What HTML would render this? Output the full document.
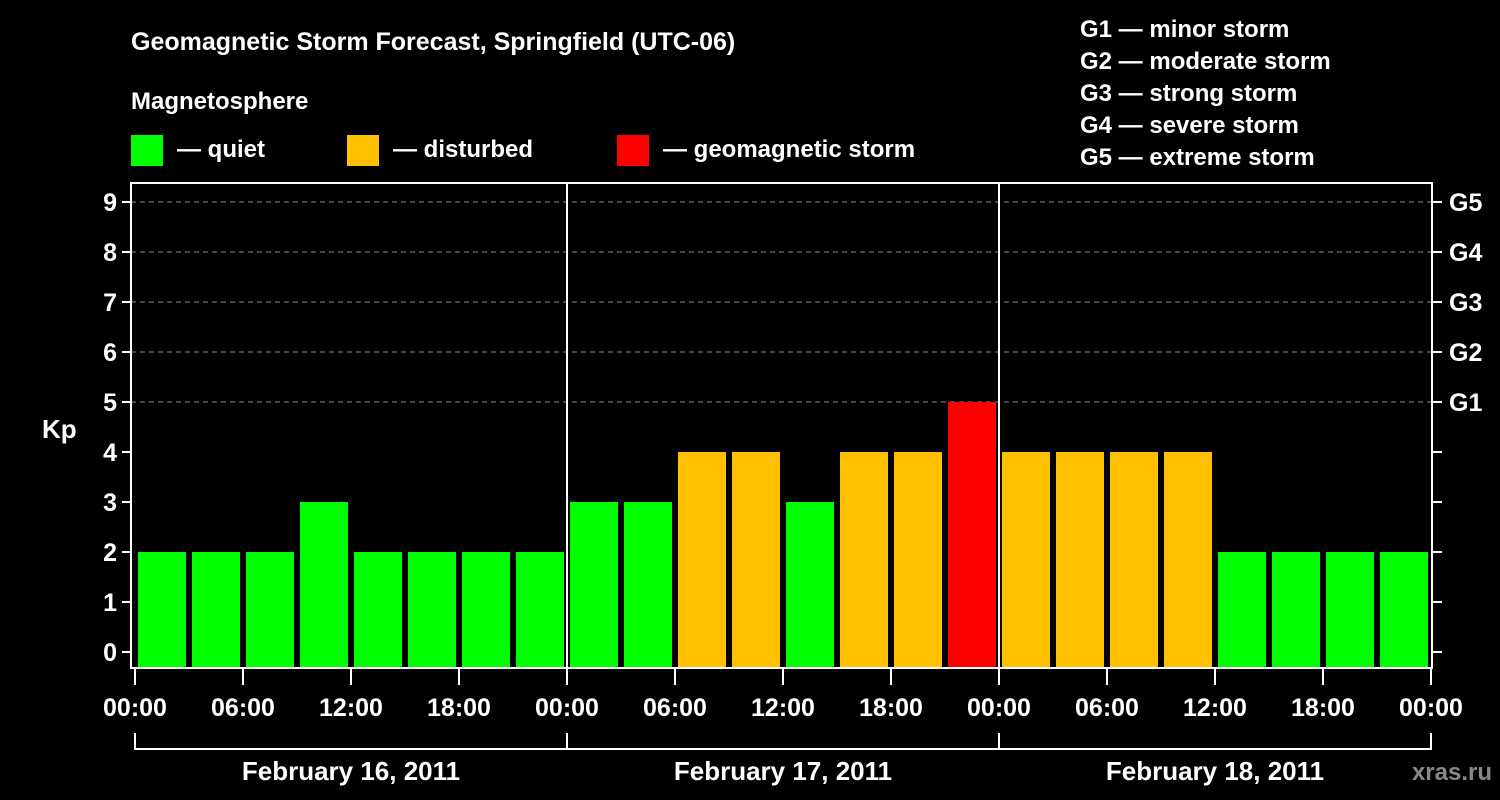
<!DOCTYPE html>
<html><head><meta charset="utf-8"><style>
html,body{margin:0;padding:0;background:#000;width:1500px;height:800px;overflow:hidden}
svg{display:block;font-family:"Liberation Sans",sans-serif;font-weight:bold}
</style></head><body>
<svg id="c" width="1500" height="800">
<text x="131" y="50" fill="#fff" font-size="25">Geomagnetic Storm Forecast, Springfield (UTC-06)</text>
<text x="131" y="109" fill="#fff" font-size="24">Magnetosphere</text>
<g><rect x="131" y="135" width="32" height="31" fill="#00ff00"/><text x="177" y="157" fill="#fff" font-size="24">— quiet</text></g>
<g><rect x="347" y="135" width="32" height="31" fill="#ffc000"/><text x="393" y="157" fill="#fff" font-size="24">— disturbed</text></g>
<g><rect x="617" y="135" width="32" height="31" fill="#ff0000"/><text x="663" y="157" fill="#fff" font-size="24">— geomagnetic storm</text></g>
<g fill="#fff" font-size="24">
<text x="1080" y="37">G1 — minor storm</text>
<text x="1080" y="69">G2 — moderate storm</text>
<text x="1080" y="101">G3 — strong storm</text>
<text x="1080" y="133">G4 — severe storm</text>
<text x="1080" y="165">G5 — extreme storm</text>
</g>
<text x="42" y="438" fill="#fff" font-size="26">Kp</text>
<text x="1492" y="780" fill="#888" font-size="24" text-anchor="end">xras.ru</text>
<g id="plot"></g>
</svg>
<script>
const kpValues=[2,2,2,3,2,2,2,2, 3,3,4,4,3,4,4,5, 4,4,4,4,2,2,2,2];
const dayLabels=["February 16, 2011","February 17, 2011","February 18, 2011"];
const hourLabels=["00:00","06:00","12:00","18:00"];
const gLabels=["G1","G2","G3","G4","G5"];
const yTicks=[0,1,2,3,4,5,6,7,8,9];

const NS="http://www.w3.org/2000/svg";
const g=document.getElementById('plot');
const L=131,R=1432,T=183,B=668,X0=135,DAY=432;
const xs=h=>X0+h*DAY/24;
const ys=v=>652-50*v;
function mk(t,a,p){const e=document.createElementNS(NS,t);for(const k in a)e.setAttribute(k,a[k]);(p||g).appendChild(e);return e;}
function color(v){return v>=5?'#ff0000':v>=4?'#ffc000':'#00ff00';}
// grid
yTicks.forEach(v=>{
  if(v>=5){const l=mk('line',{x1:L,x2:R,y1:ys(v),y2:ys(v),stroke:'#888','stroke-dasharray':'5,4','stroke-width':1});
  
  }
  const t=mk('line',{x1:L-9,x2:L,y1:ys(v),y2:ys(v),stroke:'#fff','stroke-width':2});
  
  
  const t2=mk('line',{x1:R,x2:R+10,y1:ys(v),y2:ys(v),stroke:'#fff','stroke-width':2});
  
  
  const tx=mk('text',{x:L-14,y:ys(v)+9,fill:'#fff','font-size':25,'text-anchor':'end'});
  tx.textContent=v;
  
  
});
gLabels.forEach((s,i)=>{
  const tx=mk('text',{x:R+17,y:ys(5+i)+9,fill:'#fff','font-size':25});
  tx.textContent=s;
  
  
});
// bars
kpValues.forEach((v,i)=>{
  const x=xs(i*3)+3,w=DAY/8-6;
  const r=mk('rect',{x:x,y:ys(v),width:w,height:B-ys(v),fill:color(v)});
  
  
});
// frame
const f=mk('rect',{x:L,y:T,width:R-L,height:B-T,fill:'none',stroke:'#fff','stroke-width':2});


for(let d=1;d<dayLabels.length;d++){
  const l=mk('line',{x1:xs(24*d),x2:xs(24*d),y1:T,y2:B,stroke:'#fff','stroke-width':2});
  
  
}
// x ticks
for(let h=0;h<=72;h+=6){
  const t=mk('line',{x1:xs(h),x2:xs(h),y1:B,y2:B+17,stroke:'#fff','stroke-width':2});
  
  
  const tx=mk('text',{x:xs(h),y:716,fill:'#fff','font-size':25,'text-anchor':'middle'});
  tx.textContent=hourLabels[(h/6)%4];
  
  
}
// day brackets
dayLabels.forEach((s,d)=>{
  const a=xs(24*d),b=xs(24*(d+1));
  const p=mk('path',{d:`M${a} 733V749H${b}V733`,fill:'none',stroke:'#fff','stroke-width':2});
  
  
  const tx=mk('text',{x:(a+b)/2,y:780,fill:'#fff','font-size':26,'text-anchor':'middle'});
  tx.textContent=s;
  
  
});
</script>
</body></html>
